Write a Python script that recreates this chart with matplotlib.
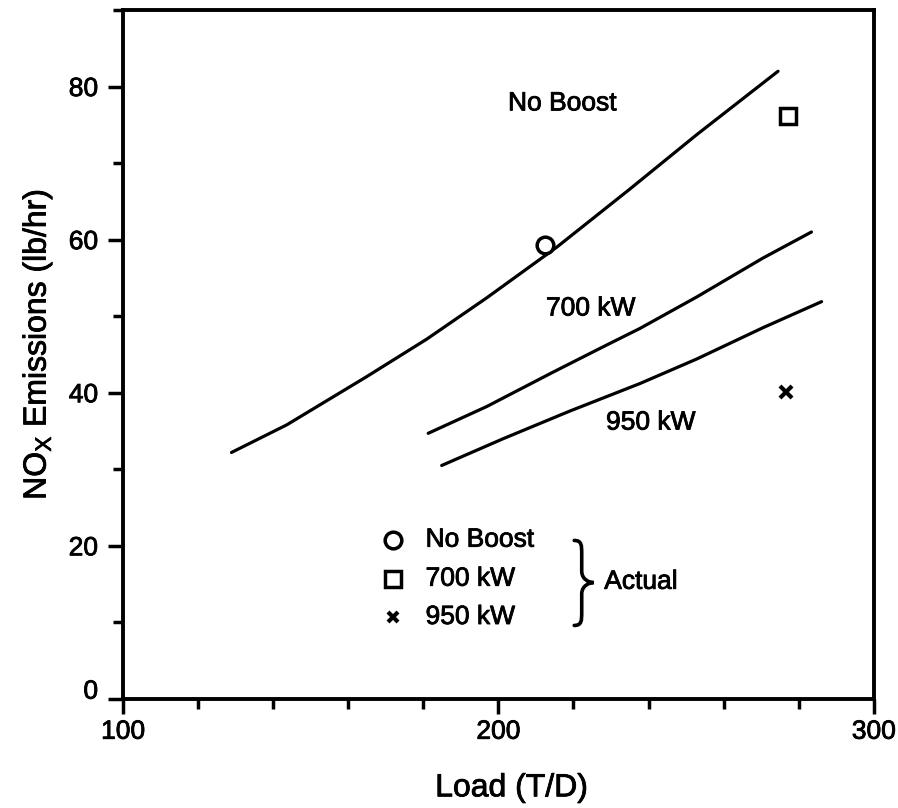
import matplotlib
matplotlib.use("Agg")
import matplotlib.pyplot as plt
import matplotlib.transforms as mtransforms
import matplotlib.patheffects as pe
from matplotlib.path import Path
from matplotlib.patches import PathPatch
from matplotlib.ticker import MultipleLocator

plt.rcParams['font.family'] = ['Liberation Sans', 'DejaVu Sans']

# curves
no_boost_x = [128.9, 143.6, 164.9, 180.9, 196.9, 215.5, 235.0, 252.8, 274.5]
no_boost_y = [32.2, 35.8, 42.1, 47.0, 52.4, 59.0, 66.6, 73.7, 82.0]

kw700_x = [181.3, 196.9, 214.6, 227.9, 237.7, 252.8, 270.5, 283.4]
kw700_y = [34.7, 38.2, 42.7, 46.0, 48.4, 52.5, 57.6, 61.0]

kw950_x = [184.9, 201.3, 219.0, 237.7, 252.8, 270.5, 286.1]
kw950_y = [30.5, 34.0, 37.6, 41.2, 44.4, 48.5, 51.9]

# actual measured points
actual_labels = ['No Boost', '700 kW', '950 kW']
actual_x = [212.4, 277.1, 276.7]
actual_y = [59.3, 76.1, 40.1]
actual_markers = ['o', 's', 'x']

fig = plt.figure(figsize=(8.98, 8.08), dpi=100)
ax = fig.add_axes([0.137, 0.135, 0.836, 0.8526])

# scanned print look: slightly heavier text
heavy = [pe.withStroke(linewidth=0.6, foreground='black')]

lw = 2.3
ax.plot(no_boost_x, no_boost_y, color='black', lw=lw, solid_capstyle='round', solid_joinstyle='round')
ax.plot(kw700_x, kw700_y, color='black', lw=lw, solid_capstyle='round', solid_joinstyle='round')
ax.plot(kw950_x, kw950_y, color='black', lw=lw, solid_capstyle='round', solid_joinstyle='round')

for x, y, m in zip(actual_x, actual_y, actual_markers):
    if m == 'x':
        ax.plot(x, y, marker='x', color='black', ms=8, mew=3, ls='none')
    else:
        ax.plot(x, y, marker=m, mfc='white', mec='black', ms=12, mew=2.5, ls='none')

fs = 19
# curve labels
ax.text(217, 77.8, 'No Boost', fontsize=fs, ha='center', va='center', path_effects=heavy)
ax.text(224.6, 51.0, '700 kW', fontsize=fs, ha='center', va='center', path_effects=heavy)
ax.text(240.6, 36.1, '950 kW', fontsize=fs, ha='center', va='center', path_effects=heavy)

# hand-made legend
leg_x = 171.9
leg_y = [20.8, 15.7, 10.7]
for lab, m, y in zip(actual_labels, actual_markers, leg_y):
    if m == 'x':
        ax.plot(leg_x, y, marker='x', color='black', ms=7, mew=3, ls='none')
    else:
        ax.plot(leg_x, y, marker=m, mfc='white', mec='black', ms=12, mew=2.5, ls='none')
    ax.text(180.6, y, lab, fontsize=fs, ha='left', va='center', path_effects=heavy)

# curly brace
x0, x1, x2 = 220.2, 222.2, 225.4
yt, ym, yb = 20.7, 15.2, 9.6
verts = [(x0, yt), (x1, yt), (x1, yt - 0.6), (x1, yt - 1.8),
         (x1, ym + 1.5),
         (x1, ym + 0.4), (x2 - 1.2, ym), (x2, ym),
         (x2 - 1.2, ym), (x1, ym - 0.4), (x1, ym - 1.5),
         (x1, yb + 1.8),
         (x1, yb + 0.6), (x1, yb), (x0, yb)]
codes = [Path.MOVETO, Path.CURVE4, Path.CURVE4, Path.CURVE4,
         Path.LINETO,
         Path.CURVE4, Path.CURVE4, Path.CURVE4,
         Path.CURVE4, Path.CURVE4, Path.CURVE4,
         Path.LINETO,
         Path.CURVE4, Path.CURVE4, Path.CURVE4]
ax.add_patch(PathPatch(Path(verts, codes), fill=False, lw=2.6, color='black', capstyle='round'))
ax.text(228.2, 15.3, 'Actual', fontsize=fs, ha='left', va='center', path_effects=heavy)

ax.set_xlim(100, 300)
ax.set_ylim(0, 90)
ax.xaxis.set_major_locator(MultipleLocator(100))
ax.xaxis.set_minor_locator(MultipleLocator(20))
ax.yaxis.set_major_locator(MultipleLocator(20))
ax.yaxis.set_minor_locator(MultipleLocator(10))

for s in ax.spines.values():
    s.set_linewidth(2.8)

ax.tick_params(which='major', direction='out', length=11, width=2.5, labelsize=19)
ax.tick_params(which='minor', direction='out', length=7, width=2.5)
ax.tick_params(axis='x', which='major', pad=4)
ax.tick_params(axis='y', which='major', pad=7)

ax.set_xlabel('Load (T/D)', fontsize=23, path_effects=heavy)
ax.set_ylabel(r'NO$_{\mathregular{X}}$ Emissions (lb/hr)', fontsize=23, labelpad=10, path_effects=heavy)
ax.xaxis.set_label_coords(0.518, -0.108)
ax.yaxis.get_label().set_y(0.515)

# nudge the "0" label up like in the original, thicken tick labels
fig.canvas.draw()
for t in ax.xaxis.get_major_ticks() + ax.yaxis.get_major_ticks():
    t.label1.set_path_effects(heavy)
for t in ax.yaxis.get_major_ticks():
    if abs(t.get_loc()) < 1e-9:
        off = mtransforms.ScaledTranslation(0, 7 / 72, fig.dpi_scale_trans)
        t.label1.set_transform(t.label1.get_transform() + off)

fig.savefig('out.png', dpi=100, facecolor='white')
